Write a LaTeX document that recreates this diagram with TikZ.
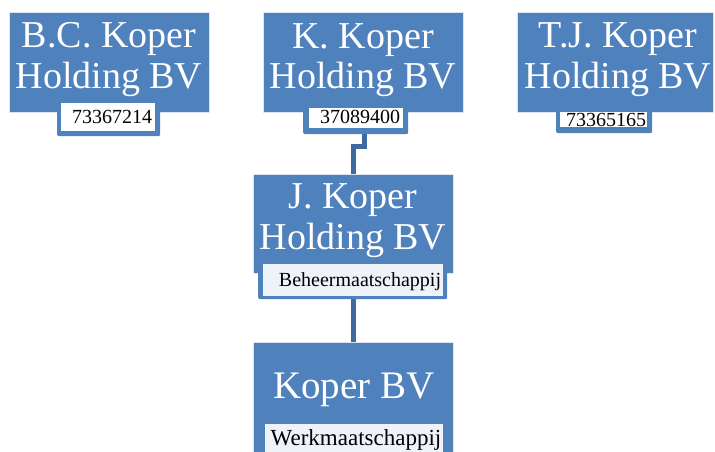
\documentclass[tikz,border=0pt]{standalone}
\usepackage{fontspec}
\setmainfont{Liberation Serif}
\definecolor{boxblue}{HTML}{4F81BD}
\definecolor{linkblue}{HTML}{3E6AA0}
\definecolor{paleblue}{HTML}{EEF2F9}
\begin{document}
\begin{tikzpicture}[x=1pt,y=-1pt,
  mainbox/.style={fill=boxblue,draw=white!80!boxblue,line width=0.6pt,inner sep=0pt,anchor=north west},
  backing/.style={fill=boxblue,draw=none,rounded corners=2pt,inner sep=0pt,anchor=north west},
  whitebox/.style={fill=white,draw=none,inner sep=0pt,anchor=north west},
  title/.style={text=white,font=\fontsize{38}{41}\selectfont,anchor=base,inner sep=0pt},
  bigtitle/.style={text=white,font=\fontsize{39}{42}\selectfont,anchor=base,inner sep=0pt},
  numtext/.style={text=black,font=\fontsize{20}{22}\selectfont,anchor=base,inner sep=0pt},
  roletext/.style={text=black,font=\fontsize{20}{22}\selectfont,anchor=base,inner sep=0pt},
  link/.style={draw=linkblue,line width=5pt}]
\useasboundingbox (0,0) rectangle (715,451);
\clip (0,0) rectangle (715,451);

% main boxes
\node[mainbox,minimum width=200pt,minimum height=100pt] (bc) at (9,12) {};
\node[mainbox,minimum width=200pt,minimum height=100pt] (k) at (263,12) {};
\node[mainbox,minimum width=196pt,minimum height=100pt] (tj) at (517,12) {};
\node[mainbox,minimum width=200pt,minimum height=99pt] (j) at (253,174) {};
\node[mainbox,minimum width=200pt,minimum height=130pt] (kb) at (253,342) {};

% sub boxes
\node[backing,minimum width=103pt,minimum height=36pt] (bcs) at (57,100) {};
\node[whitebox,minimum width=94pt,minimum height=28pt] (bcw) at (61,103) {};
\node[backing,minimum width=105pt,minimum height=34pt] (ks) at (303,100) {};
\node[whitebox,minimum width=94pt,minimum height=20pt] (kw) at (309,108) {};
\node[backing,minimum width=96pt,minimum height=33pt] (tjs) at (556,100) {};
\node[whitebox,minimum width=87pt,minimum height=15pt] (tjw) at (560,112) {};
\node[backing,minimum width=189pt,minimum height=37pt] (js) at (258,262) {};
\node[whitebox,fill=paleblue,minimum width=180pt,minimum height=32pt] (jw) at (263,264) {};
\node[backing,minimum width=188pt,minimum height=50pt] (kbs) at (261,420) {};
\node[whitebox,fill=paleblue,minimum width=178pt,minimum height=46pt] (kbw) at (265,424) {};

% titles
\node[title] (bc1) at (109,47) {B.C. Koper};
\node[title] (bc2) at (109,88) {Holding BV};
\node[title] (k1) at (363,48) {K. Koper};
\node[title] (k2) at (363,88) {Holding BV};
\node[title] (tj1) at (618,47) {T.J. Koper};
\node[title] (tj2) at (618,88) {Holding BV};
\node[title] (j1) at (353,208) {J. Koper};
\node[title] (j2) at (353,249) {Holding BV};
\node[bigtitle] (kb1) at (354,398) {Koper BV};

% sub texts
\node[numtext] (bcn) at (112,123) {73367214};
\node[numtext] (kn) at (360,123) {37089400};
\node[numtext] (tjn) at (606,126) {73365165};
\node[roletext] (jr) at (360,286) {Beheermaatschappij};
\node[roletext,font=\fontsize{23}{25}\selectfont] (kbr) at (356,445) {Werkmaatschappij};

% connectors
\draw[link] ([xshift=8.5pt]ks.south) -- ++(0,12) -| (j.north);
\draw[link] (j.south |- js.south) -- (kb.north);
\end{tikzpicture}
\end{document}
